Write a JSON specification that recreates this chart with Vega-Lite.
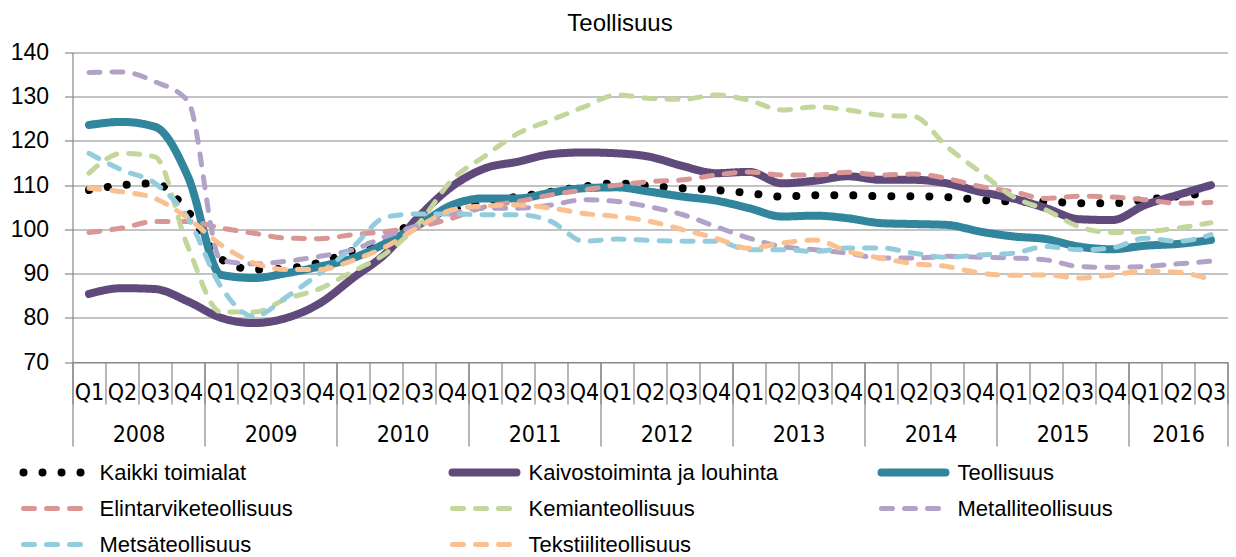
{
  "$schema": "https://vega.github.io/schema/vega-lite/v6.json",
  "width": 1155,
  "height": 309.5,
  "autosize": {"type": "none"},
  "padding": {"left": 72.5, "top": 52.5, "right": 8.5, "bottom": 195},
  "background": "white",
  "title": {"text": "Teollisuus", "font": "Liberation Sans", "fontSize": 24, "fontWeight": "normal", "color": "#000", "anchor": "middle", "frame": "group", "dx": -30, "dy": 23, "baseline": "alphabetic", "offset": 10},
  "data": {"values": [
    {"n":1,"Kaikki toimialat":108.9,"Kaivostoiminta ja louhinta":85.4,"Teollisuus":123.6,"Elintarviketeollisuus":99.3,"Kemianteollisuus":112.7,"Metalliteollisuus":135.5,"Metsäteollisuus":117.2,"Tekstiiliteollisuus":109.3},
    {"n":2,"Kaikki toimialat":110.0,"Kaivostoiminta ja louhinta":86.7,"Teollisuus":124.3,"Elintarviketeollisuus":100.3,"Kemianteollisuus":117.2,"Metalliteollisuus":135.6,"Metsäteollisuus":113.4,"Tekstiiliteollisuus":108.5},
    {"n":3,"Kaikki toimialat":110.4,"Kaivostoiminta ja louhinta":86.5,"Teollisuus":123.2,"Elintarviketeollisuus":101.8,"Kemianteollisuus":116.4,"Metalliteollisuus":133.4,"Metsäteollisuus":110.4,"Tekstiiliteollisuus":107.0},
    {"n":4,"Kaikki toimialat":104.0,"Kaivostoiminta ja louhinta":83.7,"Teollisuus":111.9,"Elintarviketeollisuus":101.8,"Kemianteollisuus":96.0,"Metalliteollisuus":129.0,"Metsäteollisuus":102.5,"Tekstiiliteollisuus":102.5},
    {"n":5,"Kaikki toimialat":93.3,"Kaivostoiminta ja louhinta":80.0,"Teollisuus":89.7,"Elintarviketeollisuus":100.3,"Kemianteollisuus":81.3,"Metalliteollisuus":93.0,"Metsäteollisuus":87.0,"Tekstiiliteollisuus":96.5},
    {"n":6,"Kaikki toimialat":90.9,"Kaivostoiminta ja louhinta":78.8,"Teollisuus":89.0,"Elintarviketeollisuus":99.1,"Kemianteollisuus":81.3,"Metalliteollisuus":92.2,"Metsäteollisuus":80.3,"Tekstiiliteollisuus":92.4},
    {"n":7,"Kaikki toimialat":91.2,"Kaivostoiminta ja louhinta":80.0,"Teollisuus":90.1,"Elintarviketeollisuus":98.0,"Kemianteollisuus":84.3,"Metalliteollisuus":92.8,"Metsäteollisuus":84.8,"Tekstiiliteollisuus":90.9},
    {"n":8,"Kaikki toimialat":92.5,"Kaivostoiminta ja louhinta":83.3,"Teollisuus":91.6,"Elintarviketeollisuus":97.9,"Kemianteollisuus":86.6,"Metalliteollisuus":93.9,"Metsäteollisuus":90.1,"Tekstiiliteollisuus":90.9},
    {"n":9,"Kaikki toimialat":95.2,"Kaivostoiminta ja louhinta":89.0,"Teollisuus":93.5,"Elintarviketeollisuus":98.8,"Kemianteollisuus":90.5,"Metalliteollisuus":95.4,"Metsäteollisuus":96.0,"Tekstiiliteollisuus":93.0},
    {"n":10,"Kaikki toimialat":98.0,"Kaivostoiminta ja louhinta":94.6,"Teollisuus":96.9,"Elintarviketeollisuus":99.5,"Kemianteollisuus":94.6,"Metalliteollisuus":98.4,"Metsäteollisuus":102.8,"Tekstiiliteollisuus":96.1},
    {"n":11,"Kaikki toimialat":102.1,"Kaivostoiminta ja louhinta":102.9,"Teollisuus":101.0,"Elintarviketeollisuus":100.6,"Kemianteollisuus":101.4,"Metalliteollisuus":101.0,"Metsäteollisuus":103.5,"Tekstiiliteollisuus":100.6},
    {"n":12,"Kaikki toimialat":104.4,"Kaivostoiminta ja louhinta":109.7,"Teollisuus":105.5,"Elintarviketeollisuus":102.5,"Kemianteollisuus":111.2,"Metalliteollisuus":103.6,"Metsäteollisuus":103.5,"Tekstiiliteollisuus":104.4},
    {"n":13,"Kaikki toimialat":106.3,"Kaivostoiminta ja louhinta":113.8,"Teollisuus":107.0,"Elintarviketeollisuus":105.1,"Kemianteollisuus":116.6,"Metalliteollisuus":104.8,"Metsäteollisuus":103.3,"Tekstiiliteollisuus":105.3},
    {"n":14,"Kaikki toimialat":107.4,"Kaivostoiminta ja louhinta":115.3,"Teollisuus":107.0,"Elintarviketeollisuus":106.3,"Kemianteollisuus":121.7,"Metalliteollisuus":104.8,"Metsäteollisuus":103.3,"Tekstiiliteollisuus":105.5},
    {"n":15,"Kaikki toimialat":108.5,"Kaivostoiminta ja louhinta":117.0,"Teollisuus":108.3,"Elintarviketeollisuus":107.8,"Kemianteollisuus":124.7,"Metalliteollisuus":105.5,"Metsäteollisuus":101.8,"Tekstiiliteollisuus":104.8},
    {"n":16,"Kaikki toimialat":109.7,"Kaivostoiminta ja louhinta":117.4,"Teollisuus":109.3,"Elintarviketeollisuus":108.9,"Kemianteollisuus":127.7,"Metalliteollisuus":106.7,"Metsäteollisuus":97.3,"Tekstiiliteollisuus":103.6},
    {"n":17,"Kaikki toimialat":110.4,"Kaivostoiminta ja louhinta":117.2,"Teollisuus":109.5,"Elintarviketeollisuus":110.0,"Kemianteollisuus":130.4,"Metalliteollisuus":106.3,"Metsäteollisuus":97.8,"Tekstiiliteollisuus":102.9},
    {"n":18,"Kaikki toimialat":109.8,"Kaivostoiminta ja louhinta":116.4,"Teollisuus":108.5,"Elintarviketeollisuus":110.8,"Kemianteollisuus":129.6,"Metalliteollisuus":105.1,"Metsäteollisuus":97.5,"Tekstiiliteollisuus":101.8},
    {"n":19,"Kaikki toimialat":109.3,"Kaivostoiminta ja louhinta":114.3,"Teollisuus":107.4,"Elintarviketeollisuus":111.2,"Kemianteollisuus":129.4,"Metalliteollisuus":103.3,"Metsäteollisuus":97.3,"Tekstiiliteollisuus":99.9},
    {"n":20,"Kaikki toimialat":108.9,"Kaivostoiminta ja louhinta":112.7,"Teollisuus":106.5,"Elintarviketeollisuus":112.3,"Kemianteollisuus":130.4,"Metalliteollisuus":100.6,"Metsäteollisuus":97.3,"Tekstiiliteollisuus":98.0},
    {"n":21,"Kaikki toimialat":108.2,"Kaivostoiminta ja louhinta":113.0,"Teollisuus":104.8,"Elintarviketeollisuus":113.0,"Kemianteollisuus":129.2,"Metalliteollisuus":98.0,"Metsäteollisuus":95.4,"Tekstiiliteollisuus":95.7},
    {"n":22,"Kaikki toimialat":107.4,"Kaivostoiminta ja louhinta":110.4,"Teollisuus":102.9,"Elintarviketeollisuus":112.3,"Kemianteollisuus":127.0,"Metalliteollisuus":96.1,"Metsäteollisuus":95.4,"Tekstiiliteollisuus":96.9},
    {"n":23,"Kaikki toimialat":107.7,"Kaivostoiminta ja louhinta":111.0,"Teollisuus":103.1,"Elintarviketeollisuus":112.3,"Kemianteollisuus":127.7,"Metalliteollisuus":95.4,"Metsäteollisuus":95.0,"Tekstiiliteollisuus":97.6},
    {"n":24,"Kaikki toimialat":107.7,"Kaivostoiminta ja louhinta":112.0,"Teollisuus":102.5,"Elintarviketeollisuus":112.9,"Kemianteollisuus":127.0,"Metalliteollisuus":94.6,"Metsäteollisuus":95.8,"Tekstiiliteollisuus":95.0},
    {"n":25,"Kaikki toimialat":107.5,"Kaivostoiminta ja louhinta":111.2,"Teollisuus":101.4,"Elintarviketeollisuus":112.3,"Kemianteollisuus":125.8,"Metalliteollisuus":93.5,"Metsäteollisuus":95.8,"Tekstiiliteollisuus":93.5},
    {"n":26,"Kaikki toimialat":107.5,"Kaivostoiminta ja louhinta":111.2,"Teollisuus":101.2,"Elintarviketeollisuus":112.5,"Kemianteollisuus":125.5,"Metalliteollisuus":93.5,"Metsäteollisuus":94.6,"Tekstiiliteollisuus":92.2},
    {"n":27,"Kaikki toimialat":107.3,"Kaivostoiminta ja louhinta":110.4,"Teollisuus":101.0,"Elintarviketeollisuus":111.5,"Kemianteollisuus":118.7,"Metalliteollisuus":93.9,"Metsäteollisuus":93.7,"Tekstiiliteollisuus":91.6},
    {"n":28,"Kaikki toimialat":106.7,"Kaivostoiminta ja louhinta":108.5,"Teollisuus":99.5,"Elintarviketeollisuus":109.7,"Kemianteollisuus":113.0,"Metalliteollisuus":93.7,"Metsäteollisuus":94.2,"Tekstiiliteollisuus":90.1},
    {"n":29,"Kaikki toimialat":106.3,"Kaivostoiminta ja louhinta":107.0,"Teollisuus":98.4,"Elintarviketeollisuus":108.5,"Kemianteollisuus":107.4,"Metalliteollisuus":93.5,"Metsäteollisuus":94.6,"Tekstiiliteollisuus":89.6},
    {"n":30,"Kaikki toimialat":106.3,"Kaivostoiminta ja louhinta":104.8,"Teollisuus":97.8,"Elintarviketeollisuus":107.0,"Kemianteollisuus":104.4,"Metalliteollisuus":93.1,"Metsäteollisuus":96.1,"Tekstiiliteollisuus":89.7},
    {"n":31,"Kaikki toimialat":105.9,"Kaivostoiminta ja louhinta":102.3,"Teollisuus":96.1,"Elintarviketeollisuus":107.5,"Kemianteollisuus":100.6,"Metalliteollisuus":91.6,"Metsäteollisuus":95.4,"Tekstiiliteollisuus":89.0},
    {"n":32,"Kaikki toimialat":105.9,"Kaivostoiminta ja louhinta":102.1,"Teollisuus":95.5,"Elintarviketeollisuus":107.3,"Kemianteollisuus":99.3,"Metalliteollisuus":91.4,"Metsäteollisuus":95.8,"Tekstiiliteollisuus":89.7},
    {"n":33,"Kaikki toimialat":106.7,"Kaivostoiminta ja louhinta":105.5,"Teollisuus":96.3,"Elintarviketeollisuus":106.7,"Kemianteollisuus":99.5,"Metalliteollisuus":91.6,"Metsäteollisuus":98.0,"Tekstiiliteollisuus":90.5},
    {"n":34,"Kaikki toimialat":107.5,"Kaivostoiminta ja louhinta":107.8,"Teollisuus":96.7,"Elintarviketeollisuus":105.9,"Kemianteollisuus":100.3,"Metalliteollisuus":92.2,"Metsäteollisuus":97.3,"Tekstiiliteollisuus":90.3},
    {"n":35,"Kaikki toimialat":108.3,"Kaivostoiminta ja louhinta":110.0,"Teollisuus":97.6,"Elintarviketeollisuus":106.1,"Kemianteollisuus":101.5,"Metalliteollisuus":92.8,"Metsäteollisuus":98.8,"Tekstiiliteollisuus":88.6}
  ]},
  "transform": [
    {"fold": ["Kaikki toimialat","Kaivostoiminta ja louhinta","Teollisuus","Elintarviketeollisuus","Kemianteollisuus","Metalliteollisuus","Metsäteollisuus","Tekstiiliteollisuus"], "as": ["series","value"]}
  ],
  "encoding": {
    "y": {"field": "value", "type": "quantitative", "scale": {"domain": [70, 140], "nice": false, "zero": false},
      "axis": {"values": [70,80,90,100,110,120,130,140], "title": null, "grid": true, "gridColor": "#888", "gridWidth": 1.2, "domain": true, "domainColor": "#888", "domainWidth": 1.2, "ticks": true, "tickSize": 8, "tickColor": "#888", "tickWidth": 1.2, "labelFont": "Liberation Sans", "labelFontSize": 23, "labelColor": "#000", "labelPadding": 16}}
  },
  "layer": [
    {
      "mark": {"type": "line", "interpolate": "monotone", "strokeCap": "round", "strokeJoin": "round"},
      "encoding": {
        "x": {"field": "n", "type": "quantitative", "scale": {"domain": [0.5, 35.5], "nice": false, "zero": false},
          "axis": {"orient": "bottom", "values": [0.5,1.5,2.5,3.5,4.5,5.5,6.5,7.5,8.5,9.5,10.5,11.5,12.5,13.5,14.5,15.5,16.5,17.5,18.5,19.5,20.5,21.5,22.5,23.5,24.5,25.5,26.5,27.5,28.5,29.5,30.5,31.5,32.5,33.5,34.5,35.5],
            "labels": false, "ticks": true, "tickSize": 42, "tickColor": "#888", "tickWidth": 1.2, "domain": true, "domainColor": "#888", "domainWidth": 1.2, "grid": false, "title": null}},
        "color": {"field": "series", "type": "nominal",
          "scale": {"domain": ["Kaikki toimialat","Kaivostoiminta ja louhinta","Teollisuus","Elintarviketeollisuus","Kemianteollisuus","Metalliteollisuus","Metsäteollisuus","Tekstiiliteollisuus"],
                    "range": ["#000000","#604A7B","#31859C","#D99694","#C3D69B","#B3A2C7","#93CDDD","#FAC090"]},
          "legend": {"orient": "none", "legendX": -28, "legendY": 409, "columns": 3, "direction": "horizontal", "title": null, "padding": 0,
            "symbolType": "stroke", "symbolSize": 4096, "symbolStrokeWidth": 5,
            "labelFont": "Liberation Sans", "labelFontSize": 22, "labelColor": "#000", "labelOffset": 33, "labelLimit": 400,
            "columnPadding": 87, "rowPadding": 9, "gridAlign": "all",
            "encode": {"symbols": {"update": {"strokeCap": {"value": "round"}, "strokeWidth": {"signal": "indexof(['Kaikki toimialat','Kaivostoiminta ja louhinta','Teollisuus'], datum.value) >= 0 ? 8 : 5"}}}}}},
        "strokeDash": {"field": "series", "type": "nominal",
          "scale": {"domain": ["Kaikki toimialat","Kaivostoiminta ja louhinta","Teollisuus","Elintarviketeollisuus","Kemianteollisuus","Metalliteollisuus","Metsäteollisuus","Tekstiiliteollisuus"],
                    "range": [[0.01,19],[1,0],[1,0],[11,12],[11,12],[11,12],[11,12],[11,12]]}},
        "strokeWidth": {"condition": {"test": "indexof(['Kaikki toimialat','Kaivostoiminta ja louhinta','Teollisuus'], datum.series) >= 0", "value": 8}, "value": 5}
      }
    },
    {
      "mark": {"type": "point", "opacity": 0},
      "encoding": {
        "x": {"field": "n", "type": "quantitative", "scale": {"domain": [0.5, 35.5], "nice": false, "zero": false},
          "axis": {"orient": "bottom", "values": [1,2,3,4,5,6,7,8,9,10,11,12,13,14,15,16,17,18,19,20,21,22,23,24,25,26,27,28,29,30,31,32,33,34,35],
            "labelExpr": "'Q' + (((datum.value - 1) % 4) + 1)", "ticks": false, "tickSize": 0, "domain": false, "grid": false, "title": null,
            "labelFont": "Liberation Sans Narrow, DejaVu Sans Condensed", "labelFontSize": 23, "labelColor": "#000", "labelPadding": 19.5, "labelOverlap": false, "labelFlush": false, "labelBound": false}}
      }
    },
    {
      "mark": {"type": "point", "opacity": 0},
      "encoding": {
        "x": {"field": "n", "type": "quantitative", "scale": {"domain": [0.5, 35.5], "nice": false, "zero": false},
          "axis": {"orient": "bottom", "values": [2.5,6.5,10.5,14.5,18.5,22.5,26.5,30.5,34],
            "labelExpr": "'' + (2008 + floor((datum.value - 0.5) / 4))", "ticks": false, "tickSize": 0, "domain": false, "grid": false, "title": null,
            "labelFont": "Liberation Sans Narrow, DejaVu Sans Condensed", "labelFontSize": 23, "labelColor": "#000", "labelPadding": 61.5, "labelOverlap": false, "labelFlush": false, "labelBound": false}}
      }
    },
    {
      "mark": {"type": "point", "opacity": 0},
      "encoding": {
        "x": {"field": "n", "type": "quantitative", "scale": {"domain": [0.5, 35.5], "nice": false, "zero": false},
          "axis": {"orient": "bottom", "values": [0.5,4.5,8.5,12.5,16.5,20.5,24.5,28.5,32.5,35.5],
            "labels": false, "ticks": true, "tickSize": 84, "tickColor": "#888", "tickWidth": 1.2, "domain": false, "grid": false, "title": null}}
      }
    }
  ],
  "resolve": {"scale": {"x": "independent"}},
  "config": {"view": {"stroke": null}}
}
